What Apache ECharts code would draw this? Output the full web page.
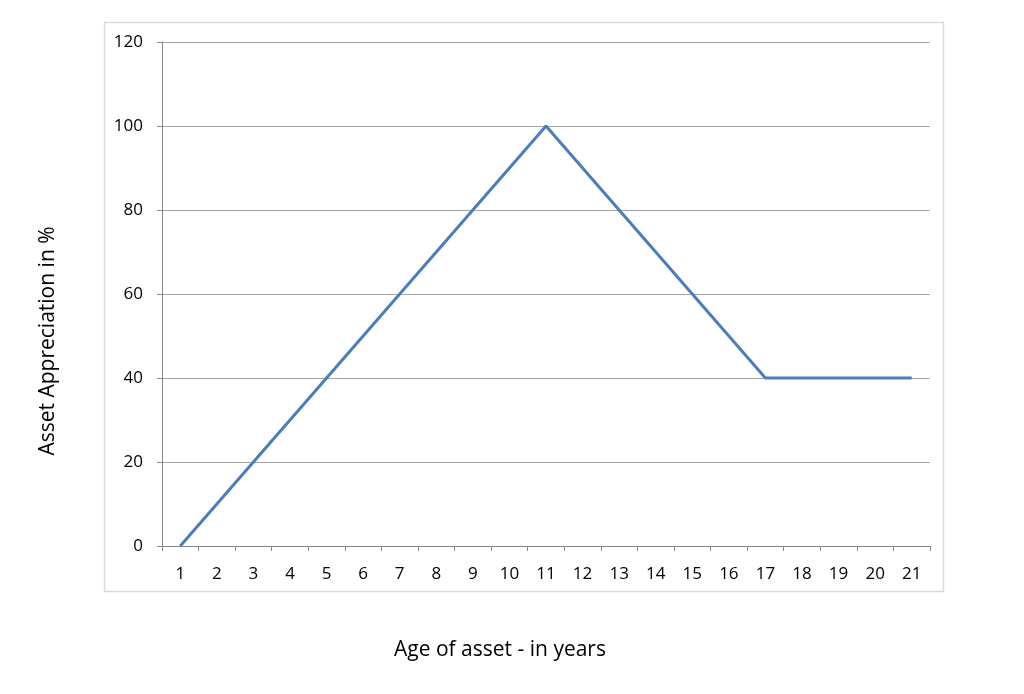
<!DOCTYPE html>
<html><head><meta charset="utf-8">
<script src="https://cdn.jsdelivr.net/npm/echarts@6/dist/echarts.min.js"></script>
<style>html,body{margin:0;padding:0;background:#fff}#c{width:1024px;height:694px}</style>
</head><body><div id="c"></div>
<script>
const categories = ['1','2','3','4','5','6','7','8','9','10','11','12','13','14','15','16','17','18','19','20','21'];
const appreciation = [0,10,20,30,40,50,60,70,80,90,100,90,80,70,60,50,40,40,40,40,40];
const yTitle = 'Asset Appreciation in %';
const xTitle = 'Age of asset - in years';
const font = '"Open Sans", "Liberation Sans", sans-serif';
const chart = echarts.init(document.getElementById('c'));
chart.setOption({
  animation: false,
  backgroundColor: '#fff',
  grid: {left: 162, right: 94, top: 42, bottom: 148, containLabel: false},
  graphic: [
    {type: 'rect', shape: {x: 104.5, y: 22.5, width: 839, height: 569}, style: {fill: 'none', stroke: '#d9d9d9', lineWidth: 1.5}, z: -1},
    {type: 'text', x: 500, y: 650, style: {text: xTitle, font: '21px ' + font, fill: '#000', align: 'center', verticalAlign: 'middle'}},
    {type: 'text', x: 48, y: 341, rotation: Math.PI / 2, style: {text: yTitle, font: '21px ' + font, fill: '#000', align: 'center', verticalAlign: 'middle'}}
  ],
  xAxis: {
    type: 'category', data: categories, boundaryGap: true,
    axisLine: {lineStyle: {color: '#868686', width: 1}},
    axisTick: {show: true, length: 5, lineStyle: {color: '#868686'}},
    axisLabel: {color: '#000', fontSize: 17, fontFamily: font, margin: 20}
  },
  yAxis: {
    type: 'value', min: 0, max: 120, interval: 20,
    axisLine: {show: true, lineStyle: {color: '#868686', width: 1}},
    axisTick: {show: true, length: 5, lineStyle: {color: '#868686'}},
    axisLabel: {color: '#000', fontSize: 17, fontFamily: font, margin: 19},
    splitLine: {show: true, lineStyle: {color: '#a6a6a6', width: 1}}
  },
  series: [{
    type: 'line', data: appreciation, symbol: 'none',
    lineStyle: {color: '#4a7ebb', width: 3}
  }]
});
</script></body></html>
